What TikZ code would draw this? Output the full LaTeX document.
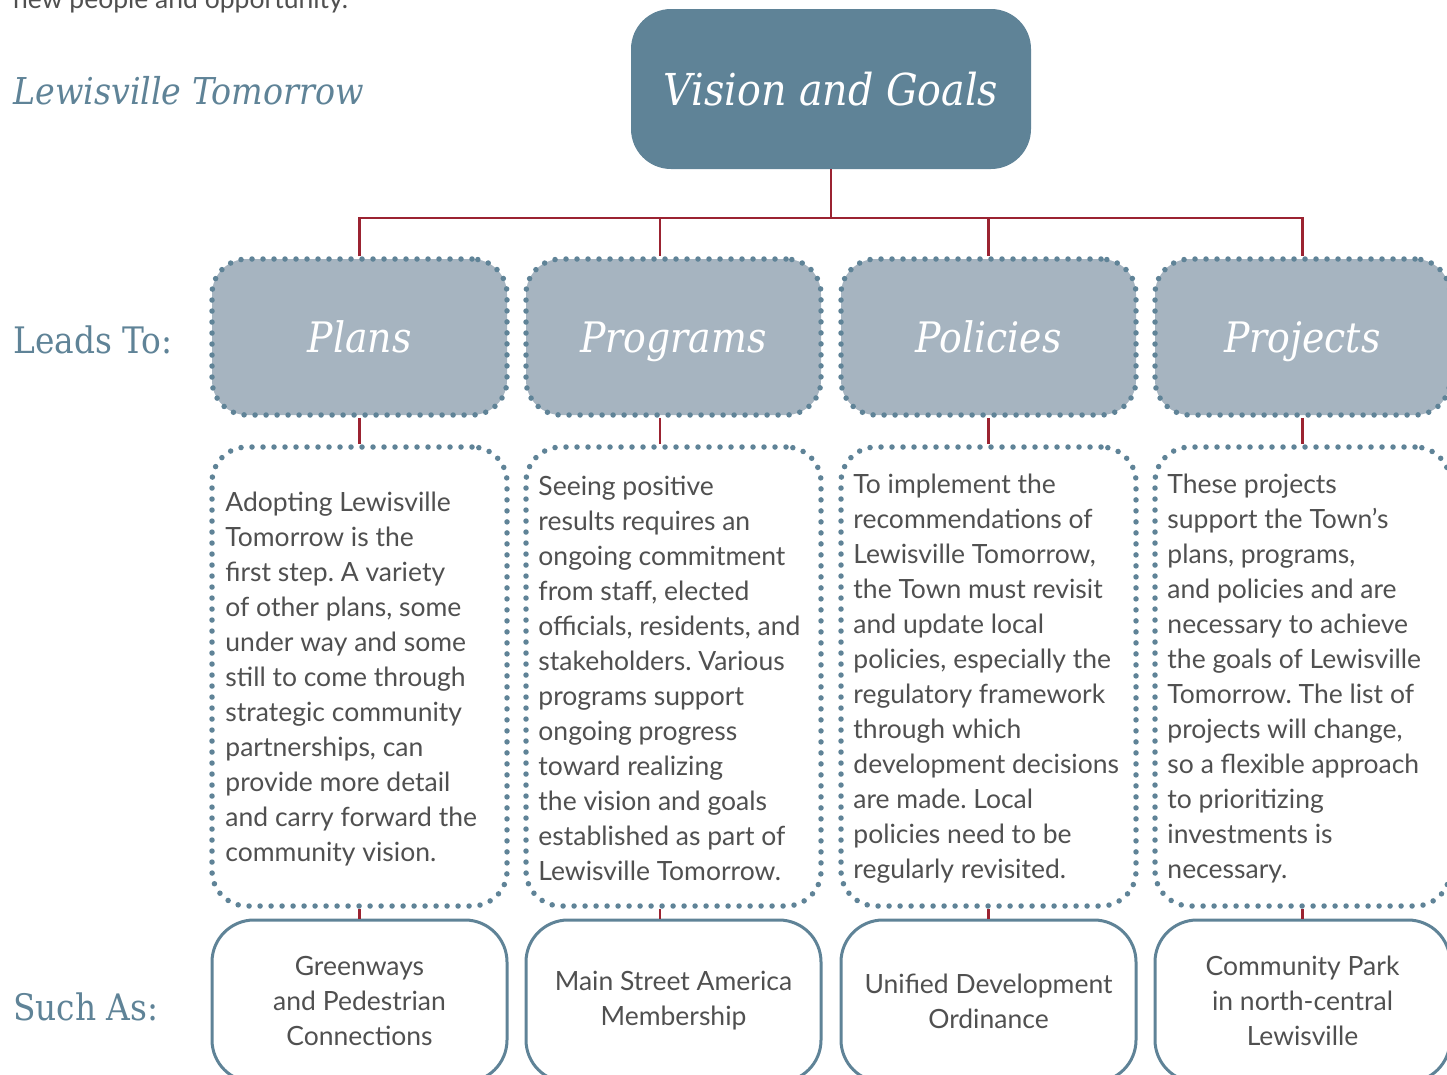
\documentclass[tikz,border=0pt]{standalone}
\usepackage{fontspec}
\setmainfont{Lato}
\newfontfamily\slab{DejaVu Serif Condensed}
\definecolor{steel}{HTML}{5F8397}
\definecolor{haze}{HTML}{A6B4C0}
\definecolor{ink}{HTML}{505050}
\definecolor{wine}{HTML}{9B2331}
\frenchspacing
\begin{document}
\begin{tikzpicture}[x=1pt,y=-1pt,
    goal/.style={fill=steel,rounded corners=40pt,minimum width=400pt,minimum height=160pt,inner sep=0pt,text=white,font=\slab\itshape\fontsize{44}{50}\selectfont},
    dotbox/.style={draw=steel,line width=5.5pt,line cap=round,dash pattern=on 0pt off 11pt,rounded corners=35pt,minimum width=295pt,inner sep=0pt},
    lead/.style={dotbox,fill=haze,minimum height=156pt,text height=31pt,text depth=0pt,text=white,font=\slab\itshape\fontsize{42}{50}\selectfont},
    note/.style={dotbox,fill=white,minimum height=459pt},
    txt/.style={anchor=west,align=left,inner sep=0pt,text=ink,font=\fontsize{26.5}{35}\selectfont},
    eg/.style={draw=steel,line width=3pt,rounded corners=42pt,minimum width=295pt,minimum height=162pt,inner sep=0pt,align=center,text=ink,font=\fontsize{26.5}{35}\selectfont},
    link/.style={draw=wine,line width=2.5pt},
    tag/.style={anchor=base west,inner sep=0pt,text=steel,font=\slab\fontsize{36.5}{44}\selectfont}]
    \useasboundingbox (0,0) rectangle (1447,1074);
    \clip (0,0) rectangle (1447,1074);

    \node[anchor=base west,inner sep=0pt,text=ink,font=\fontsize{26.5}{35}\selectfont] (intro) at (13,8) {new people and opportunity.};
    \node[tag,font=\slab\itshape\fontsize{37}{44}\selectfont] (title) at (13,104) {Lewisville Tomorrow};
    \node[tag] (leads) at (13,353) {Leads To:};
    \node[tag] (such) at (13,1020) {Such As:};

    \node[goal] (vision) at (831,89) {Vision and Goals};

    \node[lead] (plans) at (359.5,337) {Plans};
    \node[lead] (progs) at (673.5,337) {Programs};
    \node[lead] (pols) at (988.5,337) {Policies};
    \node[lead] (projs) at (1302.5,337) {Projects};

    \node[note] (plansd) at (359.5,676.5) {};
    \node[note] (progsd) at (673.5,676.5) {};
    \node[note] (polsd) at (988.5,676.5) {};
    \node[note] (projsd) at (1302.5,676.5) {};

    \node[txt] (planst) at ([xshift=16pt,yshift=-2pt]plansd.west) {Adopting Lewisville\\Tomorrow is the\\first step. A variety\\of other plans, some\\under way and some\\still to come through\\strategic community\\partnerships, can\\provide more detail\\and carry forward the\\community vision.};
    \node[txt] (progst) at ([xshift=15pt,yshift=-2pt]progsd.west) {Seeing positive\\results requires an\\ongoing commitment\\from staff, elected\\officials, residents, and\\stakeholders. Various\\programs support\\ongoing progress\\toward realizing\\the vision and goals\\established as part of\\Lewisville Tomorrow.};
    \node[txt] (polst) at ([xshift=15pt,yshift=-2pt]polsd.west) {To implement the\\recommendations of\\Lewisville Tomorrow,\\the Town must revisit\\and update local\\policies, especially the\\regulatory framework\\through which\\development decisions\\are made. Local\\policies need to be\\regularly revisited.};
    \node[txt] (projst) at ([xshift=15pt,yshift=-2pt]projsd.west) {These projects\\support the Town’s\\plans, programs,\\and policies and are\\necessary to achieve\\the goals of Lewisville\\Tomorrow. The list of\\projects will change,\\so a flexible approach\\to prioritizing\\investments is\\necessary.};

    \node[eg] (planse) at (359.5,1001) {Greenways\\and Pedestrian\\Connections};
    \node[eg] (progse) at (673.5,1001) {Main Street America\\Membership};
    \node[eg] (polse) at (988.5,1001) {Unified Development\\Ordinance};
    \node[eg] (projse) at (1302.5,1001) {Community Park\\in north-central\\Lewisville};

    \coordinate (bus) at (0,218);
    \coordinate (pg) at (660,218);
    \draw[link] (vision.south) -- (vision.south|-bus);
    \draw[link] (plans.north) -- (plans.north|-bus) -- (projs.north|-bus) -- (projs.north);
    \draw[link] (pg) -- (pg|-progs.north);
    \draw[link] (pols.north|-bus) -- (pols.north);

    \draw[link] (plans) -- (plansd);
    \draw[link] (pg|-progs.south) -- (pg|-progsd.north);
    \draw[link] (pols) -- (polsd);
    \draw[link] (projs) -- (projsd);

    \draw[link] (plansd) -- (planse);
    \draw[link] (pg|-progsd.south) -- (pg|-progse.north);
    \draw[link] (polsd) -- (polse);
    \draw[link] (projsd) -- (projse);
\end{tikzpicture}
\end{document}
